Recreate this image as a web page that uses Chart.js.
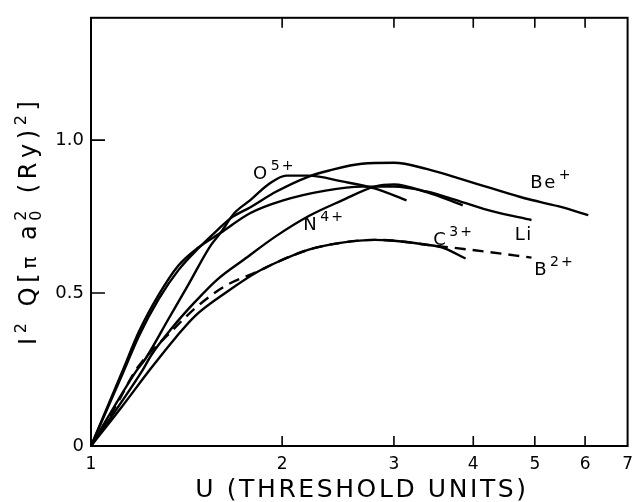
<!DOCTYPE html>
<html lang="en">
<head>
<meta charset="UTF-8">
<title>Scaled ionization cross sections</title>
<script src="https://cdn.jsdelivr.net/npm/chart.js@4"></script>
<style>
  html, body { margin: 0; padding: 0; background: #fff; }
  #box { width: 641px; height: 502px; }
</style>
</head>
<body>
<div id="box"><canvas id="chart"></canvas></div>
<script>
// values: U in threshold units, Q scaled
const uLi  = [1, 1.121, 1.19, 1.278, 1.373, 1.474, 1.6, 1.78, 2.008, 2.341, 2.67, 3.0, 3.376, 3.81, 4.28, 4.94];
const qLi  = [0, 0.245, 0.374, 0.494, 0.59, 0.648, 0.697, 0.761, 0.803, 0.835, 0.848, 0.848, 0.832, 0.80, 0.768, 0.739];

const uBe  = [1, 1.121, 1.19, 1.278, 1.373, 1.474, 1.58, 1.66, 1.78, 1.959, 2.203, 2.365, 2.67, 3.0, 3.376, 3.81, 4.28, 4.82, 5.44, 6.07];
const qBe  = [0, 0.235, 0.36, 0.48, 0.575, 0.645, 0.705, 0.745, 0.78, 0.832, 0.881, 0.9, 0.923, 0.926, 0.906, 0.874, 0.842, 0.81, 0.784, 0.755];

const uO   = [1, 1.178, 1.22, 1.325, 1.422, 1.543, 1.6, 1.681, 1.78, 1.911, 2.03, 2.203, 2.486, 2.796, 3.14];
const qO   = [0, 0.245, 0.287, 0.416, 0.526, 0.655, 0.697, 0.761, 0.803, 0.858, 0.884, 0.884, 0.865, 0.842, 0.803];

const uN   = [1, 1.203, 1.247, 1.339, 1.458, 1.582, 1.742, 1.959, 2.203, 2.486, 2.796, 3.0, 3.376, 3.85];
const qN   = [0, 0.245, 0.30, 0.384, 0.471, 0.545, 0.61, 0.687, 0.752, 0.803, 0.848, 0.855, 0.83, 0.787];

const uC   = [1, 1.12, 1.243, 1.36, 1.458, 1.64, 1.824, 1.959, 2.203, 2.486, 2.796, 3.0, 3.376, 3.586, 3.89];
const qC   = [0, 0.13, 0.254, 0.355, 0.425, 0.505, 0.568, 0.6, 0.642, 0.665, 0.674, 0.671, 0.658, 0.648, 0.613];

const uB   = [1, 1.1, 1.178, 1.339, 1.458, 1.623, 1.837, 1.959, 2.203, 2.486, 2.796, 3.0, 3.376, 3.586, 4.2, 4.94];
const qB   = [0, 0.14, 0.25, 0.375, 0.45, 0.522, 0.572, 0.6, 0.642, 0.665, 0.674, 0.671, 0.658, 0.652, 0.635, 0.616];

const xTicks = [1, 2, 3, 4, 5, 6, 7];
const yTicks = [0, 0.5, 1.0];

// curve labels: base text, superscript, anchor (left, baseline) in data units
const labelBase = ['O', 'N', 'Be', 'Li', 'C', 'B'];
const labelSup  = ['5+', '4+', '+', '', '3+', '2+'];
const labelU    = [1.80, 2.16, 4.92, 4.65, 3.46, 4.99];
const labelQ    = [0.874, 0.706, 0.842, 0.674, 0.658, 0.558];

const xTitle = 'U (THRESHOLD UNITS)';
// y title as runs: [text, size, raise]
const yTitleRuns = [
  ['I', 24, 0], ['2', 16, 10], [' ', 24, 0], ['Q', 24, 0], ['[', 24, 0], ['π', 20, 0], [' ', 24, 0],
  ['a', 24, 0], ['02', 16, 0], [' ', 24, 0], ['(Ry)', 24, 0], ['2', 16, 10], [']', 24, 0]
];

const FONT = "'DejaVu Sans', sans-serif";

function pts(us, qs) {
  return us.map((u, i) => ({ x: u, y: qs[i] }));
}

function curve(label, us, qs, dash) {
  return {
    label: label,
    data: pts(us, qs),
    showLine: true,
    borderColor: '#000',
    borderWidth: 2.4,
    borderDash: dash || [],
    pointRadius: 0,
    cubicInterpolationMode: 'monotone',
    fill: false
  };
}

// draw text char by char with extra spacing, returns end x
function spaced(ctx, text, x, y, gap) {
  for (const ch of text) {
    ctx.fillText(ch, x, y);
    x += ctx.measureText(ch).width + gap;
  }
  return x;
}

const framePlugin = {
  id: 'frame',
  afterDraw(chart) {
    const ctx = chart.ctx;
    const a = chart.chartArea;
    const xs = chart.scales.x, ys = chart.scales.y;
    ctx.save();
    ctx.strokeStyle = '#000';
    ctx.lineWidth = 2;
    ctx.strokeRect(a.left, a.top, a.right - a.left, a.bottom - a.top);
    ctx.lineWidth = 1.6;
    ctx.beginPath();
    xTicks.slice(1, -1).forEach(v => {
      const px = xs.getPixelForValue(v);
      ctx.moveTo(px, a.bottom); ctx.lineTo(px, a.bottom - 10);
      ctx.moveTo(px, a.top); ctx.lineTo(px, a.top + 10);
    });
    yTicks.slice(1).forEach(v => {
      const py = ys.getPixelForValue(v);
      ctx.moveTo(a.left, py); ctx.lineTo(a.left + 14, py);
    });
    ctx.stroke();

    // axis titles
    ctx.fillStyle = '#000';
    ctx.textBaseline = 'alphabetic';
    ctx.textAlign = 'left';
    ctx.font = '25px ' + FONT;
    let w = 0;
    for (const ch of xTitle) w += ctx.measureText(ch).width + 2.6;
    spaced(ctx, xTitle, 362 - w / 2, 497, 2.6);

    ctx.translate(36, 345);
    ctx.rotate(-Math.PI / 2);
    let x = 0;
    yTitleRuns.forEach(r => {
      ctx.font = r[1] + 'px ' + FONT;
      if (r[0] === '02') {
        // subscript 0 with superscript 2 stacked
        ctx.fillText('0', x, 5);
        ctx.fillText('2', x, -10);
        x += ctx.measureText('0').width + 5;
      } else {
        x = spaced(ctx, r[0], x, -r[2], 4.6);
      }
    });
    ctx.restore();
  }
};

const labelPlugin = {
  id: 'curveLabels',
  afterDatasetsDraw(chart) {
    const ctx = chart.ctx;
    const xs = chart.scales.x, ys = chart.scales.y;
    ctx.save();
    ctx.fillStyle = '#000';
    ctx.textBaseline = 'alphabetic';
    ctx.textAlign = 'left';
    labelBase.forEach((t, i) => {
      const px = xs.getPixelForValue(labelU[i]);
      const py = ys.getPixelForValue(labelQ[i]);
      ctx.font = '18px ' + FONT;
      const end = spaced(ctx, t, px, py, 1.5);
      if (labelSup[i]) {
        ctx.font = '14px ' + FONT;
        spaced(ctx, labelSup[i], end + 2, py - 9, 2);
      }
    });
    ctx.restore();
  }
};

new Chart(document.getElementById('chart'), {
  type: 'scatter',
  data: {
    datasets: [
      curve('Li', uLi, qLi),
      curve('Be+', uBe, qBe),
      curve('O5+', uO, qO),
      curve('N4+', uN, qN),
      curve('C3+', uC, qC),
      curve('B2+', uB, qB, [11, 7])
    ]
  },
  options: {
    responsive: true,
    maintainAspectRatio: false,
    animation: false,
    devicePixelRatio: 1,
    layout: { autoPadding: false, padding: { top: 10, right: 3, left: 0, bottom: 0 } },
    plugins: { legend: { display: false }, tooltip: { enabled: false } },
    scales: {
      x: {
        type: 'logarithmic',
        min: 1, max: 7,
        afterBuildTicks: s => { s.ticks = xTicks.map(v => ({ value: v })); },
        afterFit: s => { s.height = 56; },
        grid: { display: false, drawTicks: false },
        border: { display: false },
        ticks: {
          autoSkip: false, maxRotation: 0, padding: 8,
          color: '#000', font: { family: FONT, size: 17 },
          callback: v => String(v)
        },
        title: { display: false, text: xTitle }
      },
      y: {
        min: 0, max: 1.4,
        afterBuildTicks: s => { s.ticks = yTicks.map(v => ({ value: v })); },
        afterFit: s => { s.width = 91; },
        grid: { display: false, drawTicks: false },
        border: { display: false },
        ticks: {
          padding: 7, color: '#000', font: { family: FONT, size: 18 },
          callback: v => (v === 0 ? '0' : v.toFixed(1))
        },
        title: { display: false, text: 'I² Q[π a₀² (Ry)²]' }
      }
    }
  },
  plugins: [framePlugin, labelPlugin]
});
</script>
</body>
</html>
